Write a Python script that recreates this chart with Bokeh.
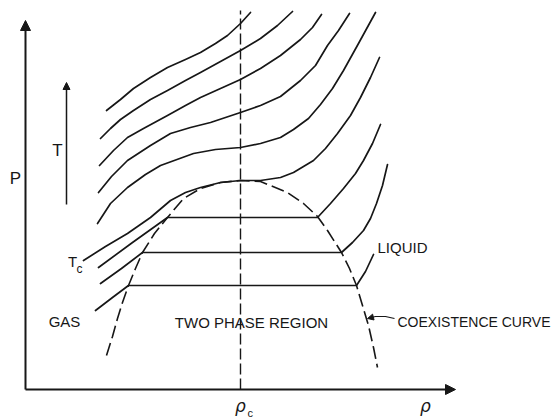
from bokeh.plotting import figure
from bokeh.models import Range1d, Arrow, NormalHead
from bokeh.core.properties import value
from bokeh.embed import file_html
from bokeh.resources import INLINE

# Density (rho) and pressure (P) in arbitrary units; critical point at (215, 209).
RHO_C = 215
P_C = 209

# Supercritical isotherms, hottest first
iso1_rho = [81, 95, 108, 125, 142, 160, 175, 190, 202, 215, 225]
iso1_p = [279, 290, 301, 312, 322, 330, 337, 346, 354, 366, 377]

iso2_rho = [75, 85, 95, 108, 125, 142, 160, 175, 195, 215, 235, 252, 267]
iso2_p = [251, 261, 270, 279, 290, 299, 309, 317, 328, 339, 351, 364, 378]

iso3_rho = [74, 88, 102, 118, 142, 160, 175, 195, 215, 235, 255, 275, 287, 296]
iso3_p = [224, 239, 252, 261, 274, 284, 292, 301, 310, 321, 334, 350, 362, 375]

iso4_rho = [73, 86, 102, 125, 145, 165, 185, 215, 235, 255, 275, 290, 302, 313, 324]
iso4_p = [197, 213, 229, 244, 256, 262, 267, 277, 284, 293, 309, 324, 344, 359, 376]

iso5_rho = [72, 85, 102, 120, 135, 168, 190, 215, 235, 255, 268, 283, 295, 307, 318, 333, 350]
iso5_p = [166, 186, 202, 215, 224, 236, 240, 242, 246, 252, 260, 271, 285, 301, 319, 346, 377]

# Critical isotherm T_c, flat at the critical point
isoc_rho = [58, 80, 102, 125, 145, 160, 175, 195, 215, 235, 255, 268, 288, 300, 312, 325, 335, 345, 354]
isoc_p = [129, 143, 156, 172, 189, 197, 202, 207, 209, 209, 212, 217, 229, 241, 256, 274, 292, 312, 332]

# Subcritical isotherms: gas branch, horizontal tie line, liquid branch
iso7_rho = [73, 107, 142, 292, 305, 318, 330, 338, 347, 355]
iso7_p = [122, 147, 172, 172, 186, 201, 216, 229, 246, 265]

iso8_rho = [75, 96, 117, 316, 327, 338, 345, 351, 357, 362]
iso8_p = [106, 121, 137, 137, 147, 159, 171, 186, 204, 225]

iso9_rho = [70, 87, 103, 331, 340, 348]
iso9_p = [79, 92, 104, 104, 118, 135]

# Coexistence curve (gas side to liquid side)
coex_rho = [81, 87, 92, 97, 103, 110, 117, 129, 142, 158, 175, 195, 215,
            235, 262, 278, 292, 302, 316, 324, 331, 337, 343, 348, 352]
coex_p = [34, 53, 71, 87, 104, 121, 137, 156, 172, 191, 201, 207, 209,
          208, 197, 186, 173, 159, 137, 121, 104, 84, 64, 42, 22]

INK = "#171717"

p = figure(width=552, height=419,
           x_range=Range1d(-25, 527), y_range=Range1d(-30, 389),
           x_axis_type=None, y_axis_type=None,
           output_backend="svg", toolbar_location=None, min_border=0)
p.grid.visible = False
p.outline_line_color = None
p.background_fill_color = "white"
p.border_fill_color = "white"

# Axes drawn as arrows from the origin
p.add_layout(Arrow(x_start=0, y_start=0, x_end=0, y_end=369, line_width=2, line_color=INK,
                   end=NormalHead(size=10, fill_color=INK, line_color=INK, line_width=1)))
p.add_layout(Arrow(x_start=0, y_start=0, x_end=430, y_end=0, line_width=2, line_color=INK,
                   end=NormalHead(size=10, fill_color=INK, line_color=INK, line_width=1)))

# Direction of increasing temperature
p.add_layout(Arrow(x_start=41, y_start=185, x_end=41, y_end=307, line_width=1.5, line_color=INK,
                   end=NormalHead(size=7, fill_color=INK, line_color=INK, line_width=1)))

# Vertical line at the critical density
p.line([RHO_C, RHO_C], [0, 379], line_color=INK, line_width=1.4, line_dash="11 4")

isotherms = [
    (iso1_rho, iso1_p), (iso2_rho, iso2_p), (iso3_rho, iso3_p), (iso4_rho, iso4_p),
    (iso5_rho, iso5_p), (isoc_rho, isoc_p), (iso7_rho, iso7_p), (iso8_rho, iso8_p),
    (iso9_rho, iso9_p),
]
for xs, ys in isotherms:
    p.line(xs, ys, line_color=INK, line_width=1.7, line_join="round", line_cap="round")

p.line(coex_rho, coex_p, line_color=INK, line_width=1.6, line_dash="13 5")

# Leader pointing at the coexistence curve
p.line([369, 360, 350, 344], [71, 73, 73, 71.5], line_color=INK, line_width=1.2)
p.add_layout(Arrow(x_start=346, y_start=72, x_end=342, y_end=71, line_width=1.2, line_color=INK,
                   end=NormalHead(size=6, fill_color=INK, line_color=INK, line_width=1)))

FONT = value("Liberation Sans")

p.text(x=[-10, 32], y=[211, 239], text=["P", "T"],
       text_font=FONT, text_font_size="17px", text_align="center", text_baseline="middle",
       text_color=INK)
p.text(x=[39, 226], y=[68, 67], text=["GAS", "TWO PHASE REGION"],
       text_font=FONT, text_font_size="15px", text_align="center", text_baseline="middle",
       text_color=INK)
p.text(x=[352], y=[142], text=["LIQUID"], text_font=FONT, text_font_size="15px",
       text_align="left", text_baseline="middle", text_color=INK)
p.text(x=[372], y=[68], text=["COEXISTENCE CURVE"], text_font=FONT, text_font_size="14px",
       text_align="left", text_baseline="middle", text_color=INK)

# T_c label on the critical isotherm
p.text(x=[47], y=[128], text=["T"], text_font=FONT, text_font_size="15px",
       text_align="center", text_baseline="middle", text_color=INK)
p.text(x=[54], y=[121], text=["c"], text_font=FONT, text_font_size="12px",
       text_align="center", text_baseline="middle", text_color=INK)

# Density labels under the horizontal axis
RHO_FONT = value("DejaVu Sans")
p.text(x=[RHO_C, 400], y=[-16, -16], text=["ρ", "ρ"], text_font=RHO_FONT,
       text_font_size="17px", text_font_style="italic", text_align="center",
       text_baseline="alphabetic", text_color=INK)
p.text(x=[222], y=[-23], text=["c"], text_font=FONT, text_font_size="11px",
       text_align="left", text_baseline="alphabetic", text_color=INK)

open("out.html", "w").write(file_html(p, INLINE))
